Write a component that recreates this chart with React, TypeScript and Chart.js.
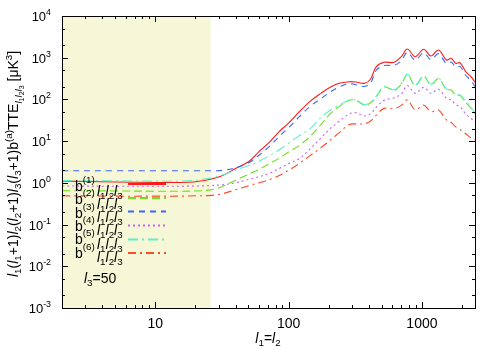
import React, { useEffect, useRef } from "react";
import { Chart, registerables } from "chart.js";
Chart.register(...registerables);

// multipole l1 = l2
const L = [2, 5, 10, 15, 20, 26, 32, 40, 50, 60, 72, 85, 100, 120, 145, 175, 205, 240, 285, 320, 370, 410, 455, 520, 620, 700, 778, 890, 1030, 1170, 1330, 1530, 1660, 1790, 1930, 2130, 2330, 2500];

const B1 = [1.1, 1.05, 1.02, 1.02, 1.06, 1.22, 1.5, 2.2, 3.2, 5.6, 9.5, 17, 27, 50, 90, 140, 195, 243, 266, 262, 243, 300, 610, 776, 776, 1057, 1618, 1057, 1592, 1100, 1531, 881, 968, 734, 759, 462, 351, 257];
const B2 = [0.65, 0.64, 0.63, 0.63, 0.64, 0.68, 0.82, 1.15, 1.6, 2.1, 2.9, 3.9, 5.5, 7.8, 13, 25, 45, 68, 95, 95, 73, 82, 115, 200, 165, 232, 395, 215, 355, 225, 315, 170, 168, 125, 125, 85, 62, 45];
const B3 = [1.95, 1.95, 1.95, 1.95, 1.95, 1.95, 2.0, 2.3, 3.0, 4.6, 7.5, 13, 21, 38, 68, 105, 150, 200, 240, 225, 205, 240, 500, 650, 660, 850, 1350, 880, 1300, 900, 1250, 720, 790, 600, 620, 380, 280, 205];
const B4 = [0.84, 0.83, 0.83, 0.83, 0.84, 0.86, 0.9, 1.0, 1.2, 1.4, 1.7, 2.2, 2.9, 3.8, 6.5, 12, 20, 30, 45, 48, 40, 45, 65, 95, 110, 135, 215, 140, 195, 140, 175, 106, 97, 75, 67, 45, 35, 29];
const B5 = [1.13, 1.12, 1.1, 1.1, 1.15, 1.3, 1.55, 2.0, 2.6, 3.3, 4.5, 6.2, 8.9, 13.5, 20, 37, 55, 73, 97, 97, 75, 85, 120, 205, 170, 240, 405, 222, 365, 232, 322, 176, 172, 128, 128, 90, 65, 46];
const B6 = [0.49, 0.48, 0.48, 0.48, 0.49, 0.5, 0.55, 0.68, 0.85, 1.0, 1.2, 1.5, 2.0, 2.9, 4.5, 7, 10.5, 16, 25, 26, 26, 30, 42, 61, 60, 72, 97, 56, 73, 51, 56, 32, 28, 22, 19, 15, 12, 10.6];

const SERIES = [B1, B2, B3, B4, B5, B6];
const COLORS = ["#ff1a1a", "#6ee01e", "#3a66f5", "#c462f8", "#5cf0c8", "#ff4a2a"];
const DASHES: number[][] = [[], [8, 4], [6, 5], [2, 3], [10, 4, 2, 4], [8, 4, 2, 4]];

const SHADE_MAX = 26;
const X_MIN = 2;
const X_MAX = 2500;
const Y_MIN = 1e-3;
const Y_MAX = 1e4;
const X_TICKS = [10, 100, 1000];
const Y_EXP = [4, 3, 2, 1, 0, -1, -2, -3];
const L3_VALUE = "50";

const FONT = "'Liberation Sans', Arial, Helvetica, sans-serif";

type Seg = { t: string; i?: boolean; s?: number; dy?: number };

function segFont(seg: Seg, base: number) {
  return `${seg.i ? "italic " : ""}${base * (seg.s ?? 1)}px ${FONT}`;
}
function richWidth(ctx: CanvasRenderingContext2D, segs: Seg[], base: number) {
  let w = 0;
  for (const s of segs) {
    ctx.font = segFont(s, base);
    w += ctx.measureText(s.t).width;
  }
  return w;
}
function drawRich(ctx: CanvasRenderingContext2D, x: number, y: number, segs: Seg[], base: number, align: "left" | "right" | "center" = "left") {
  const w = richWidth(ctx, segs, base);
  let cx = align === "left" ? x : align === "right" ? x - w : x - w / 2;
  ctx.textAlign = "left";
  ctx.textBaseline = "alphabetic";
  for (const s of segs) {
    ctx.font = segFont(s, base);
    ctx.fillText(s.t, cx, y + (s.dy ?? 0));
    cx += ctx.measureText(s.t).width;
  }
}
const ell = (n: number, sz = 1, sub = 3): Seg[] => [
  { t: "l", i: true, s: sz },
  { t: String(n), s: 0.7 * sz, dy: sub },
];

const overlay = {
  id: "overlay",
  beforeDatasetsDraw(chart: any) {
    const { ctx, chartArea: a, scales } = chart;
    const xs = scales.x;
    ctx.save();
    ctx.fillStyle = "#f6f7d6";
    const x1 = xs.getPixelForValue(SHADE_MAX);
    ctx.fillRect(a.left, a.top, x1 - a.left, a.bottom - a.top);
    ctx.restore();
  },
  afterDraw(chart: any) {
    const { ctx, chartArea: a, scales } = chart;
    const xs = scales.x;
    const ys = scales.y;
    ctx.save();
    ctx.strokeStyle = "#000";
    ctx.lineWidth = 1;
    // ticks
    ctx.beginPath();
    for (let d = 0; d <= 4; d++) {
      for (let m = 1; m <= 9; m++) {
        const v = m * Math.pow(10, d);
        if (v < X_MIN || v > X_MAX) continue;
        const px = Math.round(xs.getPixelForValue(v)) + 0.5;
        const len = m === 1 ? 6 : 3;
        ctx.moveTo(px, a.bottom);
        ctx.lineTo(px, a.bottom - len);
        ctx.moveTo(px, a.top);
        ctx.lineTo(px, a.top + len);
      }
    }
    for (let e = -3; e <= 4; e++) {
      for (const m of [1, 2, 5]) {
        const v = m * Math.pow(10, e);
        if (v < Y_MIN || v > Y_MAX) continue;
        const py = Math.round(ys.getPixelForValue(v)) + 0.5;
        const len = m === 1 ? 6 : 3;
        ctx.moveTo(a.left, py);
        ctx.lineTo(a.left + len, py);
        ctx.moveTo(a.right, py);
        ctx.lineTo(a.right - len, py);
      }
    }
    ctx.stroke();
    ctx.strokeRect(Math.round(a.left) + 0.5, Math.round(a.top) + 0.5, Math.round(a.right - a.left), Math.round(a.bottom - a.top));

    ctx.fillStyle = "#000";
    // x tick labels
    for (const t of X_TICKS) {
      const px = xs.getPixelForValue(t);
      drawRich(ctx, px, 328, [{ t: String(t) }], 14, "center");
    }
    // y tick labels
    for (const e of Y_EXP) {
      const py = ys.getPixelForValue(Math.pow(10, e));
      drawRich(ctx, 51, py + 5, [{ t: "10" }, { t: String(e), s: 0.68, dy: -6 }], 13, "right");
    }
    // x title
    drawRich(ctx, 268, 343, [...ell(1, 1, 3), { t: "=" }, ...ell(2, 1, 3)], 14, "center");
    // y title
    ctx.save();
    ctx.translate(18, 277);
    ctx.rotate(-Math.PI / 2);
    const ysegs: Seg[] = [
      ...ell(1), { t: "(" }, ...ell(1), { t: "+1)" },
      ...ell(2), { t: "(" }, ...ell(2), { t: "+1)" },
      ...ell(3), { t: "(" }, ...ell(3), { t: "+1)b" },
      { t: "(a)", s: 0.7, dy: -6 }, { t: "TTE" },
      { t: "l", i: true, s: 0.7, dy: 4 }, { t: "1", s: 0.5, dy: 6 },
      { t: "l", i: true, s: 0.7, dy: 4 }, { t: "2", s: 0.5, dy: 6 },
      { t: "l", i: true, s: 0.7, dy: 4 }, { t: "3", s: 0.5, dy: 6 },
      { t: " [μK" }, { t: "3", s: 0.7, dy: -6 }, { t: "]" },
    ];
    drawRich(ctx, 0, 0, ysegs, 14, "left");
    ctx.restore();

    // legend
    const lineY = [184, 198, 211.5, 225.5, 239.5, 253];
    const textY = [191, 204.3, 217.6, 230.9, 244.2, 257.5];
    for (let k = 0; k < 6; k++) {
      ctx.fillStyle = "#000";
      drawRich(ctx, 75, textY[k], [{ t: "b" }, { t: `(${k + 1})`, s: 0.7, dy: -8 }], 14, "left");
      drawRich(ctx, 97, textY[k] + 4.5, [...ell(1), ...ell(2), ...ell(3)], 14, "left");
      ctx.strokeStyle = COLORS[k];
      ctx.setLineDash(DASHES[k]);
      ctx.lineWidth = 2;
      ctx.beginPath();
      ctx.moveTo(128, lineY[k]);
      ctx.lineTo(166, lineY[k]);
      ctx.stroke();
    }
    ctx.setLineDash([]);
    ctx.fillStyle = "#000";
    drawRich(ctx, 84, 283, [...ell(3), { t: "=" + L3_VALUE }], 14, "left");
    ctx.restore();
  },
};

export default function App() {
  const ref = useRef<HTMLCanvasElement>(null);
  useEffect(() => {
    if (!ref.current) return;
    const chart = new Chart(ref.current, {
      type: "line",
      data: {
        datasets: SERIES.map((vals, k) => ({
          label: `b${k + 1}`,
          data: L.map((l, i) => ({ x: l, y: vals[i] })),
          borderColor: COLORS[k],
          borderWidth: 1.1,
          borderDash: DASHES[k],
          pointRadius: 0,
          fill: false,
          tension: 0.35,
          order: 6 - k,
        })),
      },
      options: {
        responsive: false,
        animation: false,
        events: [],
        layout: { padding: { left: 62, right: 25, top: 16, bottom: 42 } },
        plugins: { legend: { display: false }, tooltip: { enabled: false } },
        scales: {
          x: { type: "logarithmic", min: X_MIN, max: X_MAX, display: false },
          y: { type: "logarithmic", min: Y_MIN, max: Y_MAX, display: false },
        },
      },
      plugins: [overlay],
    });
    return () => chart.destroy();
  }, []);
  return (
    <div style={{ position: "fixed", left: 0, top: 0, width: 500, height: 350, background: "#fff" }}>
      <canvas ref={ref} width={500} height={350} style={{ display: "block" }} />
    </div>
  );
}
